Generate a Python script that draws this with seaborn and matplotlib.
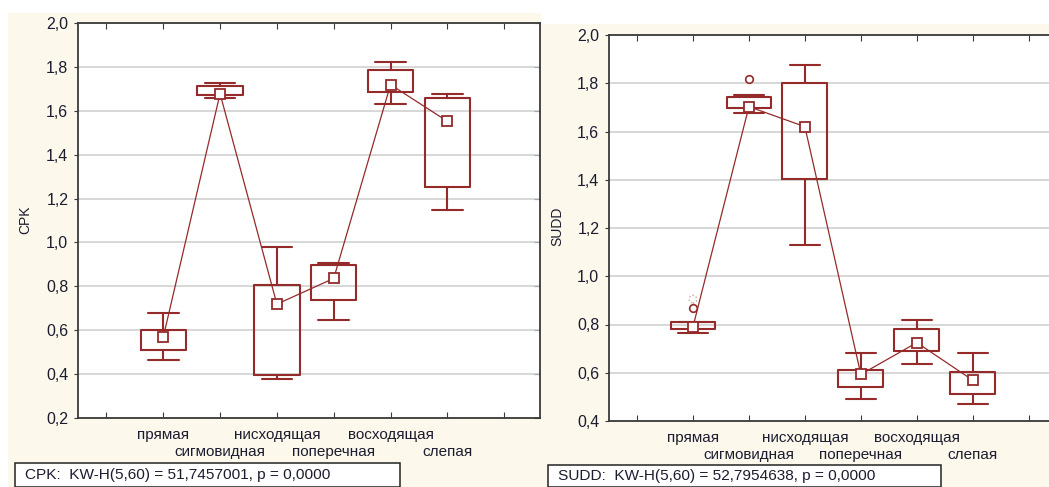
import numpy as np
import pandas as pd
import matplotlib
matplotlib.use("Agg")
import matplotlib.pyplot as plt
from matplotlib.patches import Rectangle
import seaborn as sns

# ---------------- data ----------------
categories = ["прямая", "сигмовидная", "нисходящая", "поперечная", "восходящая", "слепая"]
positions = [1, 2, 3, 4, 5, 6]

cpk_min = [0.466, 1.658, 0.378, 0.645, 1.632, 1.146]
cpk_q1 = [0.511, 1.672, 0.396, 0.739, 1.687, 1.251]
cpk_med = [0.568, 1.678, 0.719, 0.836, 1.719, 1.552]
cpk_q3 = [0.602, 1.711, 0.808, 0.897, 1.787, 1.657]
cpk_max = [0.678, 1.727, 0.978, 0.906, 1.822, 1.678]

sudd_min = [0.765, 1.678, 1.131, 0.493, 0.635, 0.471]
sudd_q1 = [0.783, 1.696, 1.405, 0.541, 0.689, 0.510]
sudd_med = [0.790, 1.703, 1.620, 0.593, 0.725, 0.569]
sudd_q3 = [0.811, 1.744, 1.802, 0.612, 0.783, 0.603]
sudd_max = [0.811, 1.751, 1.876, 0.682, 0.818, 0.682]

sudd_out_pos = [1, 2]
sudd_out_val = [0.870, 1.816]
sudd_faint_pos = [1]
sudd_faint_val = [0.905]

cpk_text = "CPK:  KW-H(5,60) = 51,7457001, p = 0,0000"
sudd_text = "SUDD:  KW-H(5,60) = 52,7954638, p = 0,0000"

# ---------------- style ----------------
sns.set_style("white")
plt.rcParams["font.family"] = ["Liberation Sans", "DejaVu Sans"]

RED = "#952a2a"
TXT = "#1c1c30"
CREAM = "#fdf8ec"
AXC = "#3a3a3a"

W, H = 1049, 487
fig = plt.figure(figsize=(W / 100, H / 100), dpi=100, facecolor="white")

# cream panel backgrounds
fig.patches.append(Rectangle((8 / W, 0), (541 - 8) / W, (H - 13) / H,
                             transform=fig.transFigure, facecolor=CREAM,
                             edgecolor="none", zorder=-10))
fig.patches.append(Rectangle((541 / W, 0), (W - 541) / W, (H - 24) / H,
                             transform=fig.transFigure, facecolor=CREAM,
                             edgecolor="none", zorder=-10))


def long_frame(mins, q1s, meds, q3s, maxs):
    rows = []
    for p, a, b, c, d, e in zip(positions, mins, q1s, meds, q3s, maxs):
        for v in (a, b, c, d, e):
            rows.append({"pos": p, "val": v})
    return pd.DataFrame(rows)


def draw_panel(ax, df, meds, ylim, yticks):
    ax.set_facecolor("white")
    sns.boxplot(data=df, x="pos", y="val", native_scale=True, whis=(0, 100),
                fill=False, color=RED, linewidth=1.5, width=0.8,
                showfliers=False, medianprops={"linewidth": 0},
                capwidths=0.54, ax=ax, zorder=3)
    sns.lineplot(x=positions, y=meds, ax=ax, color=RED, linewidth=0.9,
                 marker="s", markersize=7, markerfacecolor="white",
                 markeredgecolor=RED, markeredgewidth=1.3, sort=False,
                 estimator=None, zorder=5)
    ax.set_xlim(-0.5, 7.63)
    ax.set_ylim(*ylim)
    ax.set_yticks(yticks)
    ax.set_yticklabels([f"{t:.1f}".replace(".", ",") for t in yticks],
                       fontsize=11.5, color=TXT)
    # staggered category labels: odd categories on major ticks, even on minor ticks
    major_pos = [0] + positions[0::2] + [7]
    major_lab = [""] + categories[0::2] + [""]
    ax.set_xticks(major_pos)
    ax.set_xticklabels(major_lab, fontsize=11, color=TXT)
    ax.set_xticks(positions[1::2], minor=True)
    ax.set_xticklabels(categories[1::2], minor=True, fontsize=11, color=TXT)
    ax.set_xlabel("")
    ax.set_ylabel("")
    ax.yaxis.grid(True, color="#cdcdcd", linewidth=1.1, zorder=0)
    ax.xaxis.grid(False, which="both")
    ax.set_axisbelow(True)
    for s in ax.spines.values():
        s.set_visible(True)
        s.set_color(AXC)
        s.set_linewidth(1.3)
    ax.tick_params(axis="x", which="major", direction="in", length=4,
                   top=True, bottom=True, pad=7.0, colors=AXC, labelcolor=TXT)
    ax.tick_params(axis="x", which="minor", direction="in", length=4,
                   top=True, bottom=True, pad=19.3, colors=AXC, labelcolor=TXT,
                   width=0.8)
    ax.tick_params(axis="y", which="both", direction="out", length=3,
                   left=True, right=False, pad=4, colors=AXC, labelcolor=TXT)
    ax2 = ax.secondary_yaxis("right")
    ax2.set_yticks(yticks)
    ax2.tick_params(direction="in", length=4, labelright=False, colors=AXC)
    ax2.spines["right"].set_visible(False)


# left panel
axL = fig.add_axes([78 / W, (H - 418) / H, (540 - 78) / W, (418 - 23) / H])
dfL = long_frame(cpk_min, cpk_q1, cpk_med, cpk_q3, cpk_max)
draw_panel(axL, dfL, cpk_med, (0.2, 2.0), np.round(np.arange(0.2, 2.01, 0.2), 1))

# right panel
axR = fig.add_axes([609 / W, (H - 421) / H, (1064 - 609) / W, (421 - 35) / H])
dfR = long_frame(sudd_min, sudd_q1, sudd_med, sudd_q3, sudd_max)
draw_panel(axR, dfR, sudd_med, (0.4, 2.0), np.round(np.arange(0.4, 2.01, 0.2), 1))
sns.scatterplot(x=sudd_faint_pos, y=sudd_faint_val, ax=axR, marker="o", s=30,
                facecolor="none", edgecolor="#d9a0a0", linewidth=1.0,
                linestyle=":", zorder=4)
sns.scatterplot(x=sudd_out_pos, y=sudd_out_val, ax=axR, marker="o", s=30,
                facecolor="white", edgecolor=RED, linewidth=1.2, zorder=4)
axR.set_xlim(-0.5, 7.63)

# y labels
fig.text(25 / W, (H - 220) / H, "CPK", rotation=90, ha="center", va="center",
         fontsize=10, color=TXT)
fig.text(557 / W, (H - 226) / H, "SUDD", rotation=90, ha="center", va="center",
         fontsize=10, color=TXT)

# statistic boxes
for (x0, x1, y0, txt) in [(15, 400, 463, cpk_text), (548, 941, 465, sudd_text)]:
    fig.patches.append(Rectangle((x0 / W, 0.5 / H), (x1 - x0) / W, (H - y0 - 0.5) / H,
                                 transform=fig.transFigure, facecolor="white",
                                 edgecolor="#222222", linewidth=1.1, zorder=2))
    fig.text((x0 + 10) / W, (H - (y0 + 487) / 2) / H, txt, ha="left", va="center",
             fontsize=11.1, color=TXT, zorder=3)

fig.savefig("out.png", dpi=100, facecolor="white")
